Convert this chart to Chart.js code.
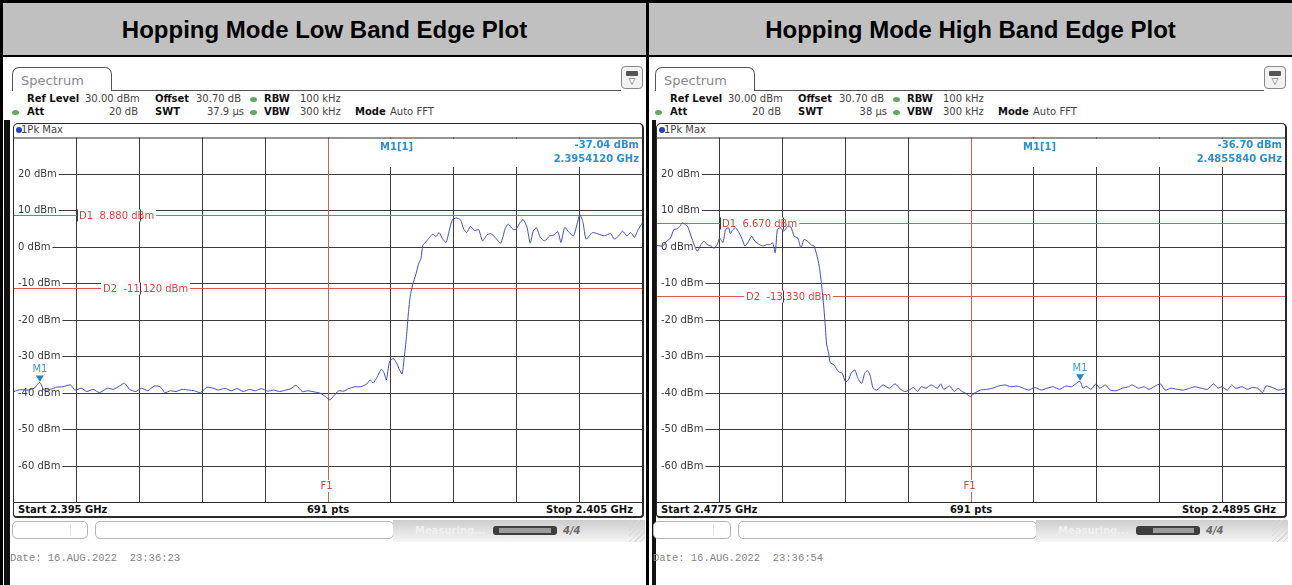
<!DOCTYPE html>
<html>
<head>
<meta charset="utf-8">
<title>Hopping Mode Band Edge Plots</title>
<script src="https://cdn.jsdelivr.net/npm/chart.js@4.4.1/dist/chart.umd.min.js"></script>
<style>
  html, body { margin: 0; padding: 0; background: #fff; }
  body { position: relative; width: 1292px; height: 585px; overflow: hidden; font-family: "DejaVu Sans", sans-serif; }
  .topband { position: absolute; left: 0; top: 0; width: 1292px; height: 57px; background: #000; }
  .head { position: absolute; top: 3px; height: 52px; background: #c0c0c0; color: #000; text-align: center;
          font: bold 24px "Liberation Sans", Arial, sans-serif; line-height: 54px; }
  .vline { position: absolute; top: 0; height: 585px; background: #000; }
  .band { position: absolute; top: 120px; height: 465px; background: #111; }
  .panel { position: absolute; top: 57px; width: 642px; height: 528px; }
  .panel > * { position: absolute; }
  .tab { left: 8px; top: 10px; width: 100px; height: 24px; box-sizing: border-box; border: 1px solid #555; border-bottom: none;
         border-radius: 7px 7px 0 0; font-size: 13px; line-height: 25px; color: #8a8a8a; padding-left: 8px; background: #fff; }
  .tabline { left: 107px; top: 33px; width: 510px; height: 0; border-top: 1px solid #555; }
  .icon { left: 617px; top: 9px; width: 22px; height: 23px; box-sizing: border-box; border: 1px solid #888; border-radius: 4px; background: #f2f2f2; }
  .icon .bat { position: absolute; left: 4px; top: 4px; width: 12px; height: 5px; background: #555; border-radius: 1px; }
  .icon .tri { position: absolute; left: 0; top: 9px; width: 20px; text-align: center; font-size: 9px; line-height: 10px; color: #555; }
  .t { position: absolute; font-size: 10px; line-height: 12px; color: #444; white-space: nowrap; }
  .t.b { font-weight: bold; color: #111; }
  .t.r { text-align: right; }
  .dot { position: absolute; width: 7px; height: 5px; border-radius: 50%; background: #62a862; }
  .win { left: 9px; top: 66px; width: 631px; height: 395px; box-sizing: border-box; border: 1px solid #2a2a2a; border-right-width: 2px;
         border-bottom-width: 2px; border-radius: 5px 5px 4px 4px; background: #fff; }
  .pk { left: 12px; top: 70px; width: 6px; height: 6px; border-radius: 50%; background: #2040d0; }
  canvas { position: absolute; }
  .sbox { border: 1px solid #b5b5b5; border-radius: 5px; background: #fff; box-sizing: border-box; }
  .status { left: 389px; top: 463px; width: 252px; height: 22px; background: linear-gradient(#cdcdcd, #f6f6f6); }
  .status .meas { position: absolute; left: 22px; top: 5px; font-size: 10px; font-weight: bold; color: #f0f0f0; }
  .prog { position: absolute; left: 100px; top: 6px; width: 64px; height: 9px; border-radius: 3px; background: #3e3e3e; }
  .prog i { position: absolute; top: 2px; height: 5px; background: #9c9c9c; }
  .status .cnt { position: absolute; left: 170px; top: 5px; font-size: 10px; font-weight: bold; font-style: italic; color: #6a6a6a; }
  .grip { position: absolute; right: 0; top: 0; width: 16px; height: 22px;
          background: repeating-linear-gradient(135deg, transparent 0 3px, #d8d8d8 3px 4px); }
  .date { left: 6px; top: 495px; font: 10.5px "Liberation Mono", "Courier New", monospace; color: #858585; white-space: pre; }
</style>
</head>
<body>
<div class="topband"></div>
<div class="head" style="left:3px;width:643px">Hopping Mode Low Band Edge Plot</div>
<div class="head" style="left:649px;width:643px">Hopping Mode High Band Edge Plot</div>
<div class="vline" style="left:0;width:3px"></div>
<div class="vline" style="left:646px;width:3px"></div>
<div class="band" style="left:4px;width:6px"></div>
<div class="band" style="left:652px;width:4px"></div>
<div class="panel" id="panelLow" style="left:4px"></div>
<div class="panel" id="panelHigh" style="left:647px"></div>

<script>
// ---- data ----
const yTicks = [20, 10, 0, -10, -20, -30, -40, -50, -60];

// low band edge: 2.395 - 2.405 GHz, values in MHz / dBm
const lowTicks = [2396, 2397, 2398, 2399, 2400, 2401, 2402, 2403, 2404];
const lowFreq = [
  2395.00, 2395.10, 2395.23, 2395.32, 2395.41, 2395.48, 2395.58, 2395.68, 2395.78, 2395.90,
  2395.97, 2396.07, 2396.16, 2396.26, 2396.36, 2396.49, 2396.58, 2396.68, 2396.76, 2396.84,
  2396.94, 2397.03, 2397.13, 2397.23, 2397.33, 2397.40, 2397.49, 2397.58, 2397.68, 2397.78,
  2397.87, 2397.97, 2398.07, 2398.17, 2398.26, 2398.36, 2398.46, 2398.55, 2398.65, 2398.75,
  2398.84, 2398.94, 2399.04, 2399.13, 2399.23, 2399.33, 2399.41, 2399.49, 2399.59, 2399.68,
  2399.78, 2399.88, 2399.96, 2400.03, 2400.09, 2400.17, 2400.25, 2400.33, 2400.43, 2400.52,
  2400.62, 2400.67, 2400.72, 2400.78, 2400.85, 2400.89, 2400.93, 2400.98, 2401.04, 2401.09,
  2401.14, 2401.18, 2401.21, 2401.25, 2401.28, 2401.31, 2401.35, 2401.40, 2401.44, 2401.48,
  2401.51, 2401.56, 2401.62, 2401.67, 2401.72, 2401.77, 2401.82, 2401.88, 2401.93, 2401.98,
  2402.04, 2402.11, 2402.16, 2402.21, 2402.27, 2402.33, 2402.40, 2402.46, 2402.53, 2402.59,
  2402.66, 2402.75, 2402.82, 2402.87, 2402.95, 2403.00, 2403.06, 2403.11, 2403.17, 2403.22,
  2403.27, 2403.32, 2403.38, 2403.45, 2403.53, 2403.59, 2403.66, 2403.71, 2403.77, 2403.84,
  2403.91, 2403.97, 2404.01, 2404.06, 2404.11, 2404.21, 2404.30, 2404.40, 2404.50, 2404.56,
  2404.63, 2404.69, 2404.76, 2404.82, 2404.88, 2404.94, 2405.00
];
const lowLevel = [
  -39.5, -39.0, -39.1, -38.6, -37.0, -39.1, -38.9, -38.3, -38.2, -37.7,
  -39.1, -38.6, -39.5, -38.9, -39.8, -38.6, -38.9, -38.0, -37.2, -38.9,
  -39.5, -38.6, -39.3, -38.0, -38.2, -39.8, -39.3, -39.5, -38.9, -39.1,
  -39.3, -39.8, -38.3, -38.6, -39.1, -38.6, -39.3, -38.7, -39.5, -38.9,
  -39.3, -38.7, -39.4, -39.1, -39.5, -39.1, -38.7, -37.8, -39.5, -39.3,
  -39.6, -40.0, -40.9, -41.8, -40.7, -39.3, -39.4, -38.7, -38.2, -38.2,
  -37.4, -36.3, -37.2, -35.6, -33.4, -34.3, -36.3, -31.3, -30.5, -31.6,
  -33.6, -34.7, -30.8, -24.4, -18.0, -13.4, -10.2, -7.4, -4.7, -3.1,
  0.4, 1.5, 2.7, 3.6, 2.9, 4.0, 2.4, 1.3, 4.5, 7.5,
  8.0, 7.5, 5.0, 4.0, 5.7, 4.5, 4.8, 1.7, 3.3, 3.7,
  2.7, 1.1, 5.0, 6.3, 4.8, 5.0, 6.8, 7.5, 5.4, 1.1,
  4.5, 5.3, 2.7, 1.7, 3.1, 3.3, 4.2, 1.3, 5.4, 4.0,
  3.1, 6.6, 8.88, 6.8, 2.2, 4.0, 3.6, 3.1, 3.7, 2.2,
  3.1, 4.4, 3.1, 4.0, 2.7, 4.8, 6.5
];
const lowDisplayLines = [8.88, -11.12];
const lowF1 = 2400.0;
const lowMarker = [2395.412, -37.04];

// high band edge: 2.4775 - 2.4895 GHz
const highTicks = [2478.7, 2479.9, 2481.1, 2482.3, 2483.5, 2484.7, 2485.9, 2487.1, 2488.3];
const highFreq = [
  2477.50, 2477.61, 2477.68, 2477.76, 2477.82, 2477.88, 2477.94, 2477.98, 2478.04, 2478.09,
  2478.15, 2478.21, 2478.27, 2478.34, 2478.40, 2478.46, 2478.53, 2478.59, 2478.65, 2478.70,
  2478.76, 2478.81, 2478.87, 2478.90, 2478.95, 2479.00, 2479.07, 2479.13, 2479.18, 2479.25,
  2479.31, 2479.37, 2479.46, 2479.53, 2479.59, 2479.66, 2479.71, 2479.76, 2479.80, 2479.86,
  2479.92, 2480.00, 2480.06, 2480.12, 2480.19, 2480.25, 2480.31, 2480.38, 2480.44, 2480.50,
  2480.55, 2480.60, 2480.64, 2480.68, 2480.72, 2480.74, 2480.78, 2480.81, 2480.88, 2480.97,
  2481.04, 2481.10, 2481.16, 2481.21, 2481.28, 2481.34, 2481.41, 2481.47, 2481.52, 2481.57,
  2481.63, 2481.70, 2481.82, 2481.94, 2482.05, 2482.17, 2482.24, 2482.32, 2482.40, 2482.48,
  2482.55, 2482.64, 2482.74, 2482.86, 2482.92, 2482.98, 2483.09, 2483.18, 2483.25, 2483.33,
  2483.40, 2483.49, 2483.56, 2483.68, 2483.80, 2483.91, 2484.03, 2484.15, 2484.26, 2484.38,
  2484.50, 2484.60, 2484.72, 2484.84, 2484.95, 2485.07, 2485.19, 2485.31, 2485.42, 2485.50,
  2485.584, 2485.64, 2485.70, 2485.79, 2485.89, 2485.96, 2486.07, 2486.16, 2486.27, 2486.39,
  2486.51, 2486.58, 2486.70, 2486.81, 2486.90, 2487.02, 2487.12, 2487.21, 2487.32, 2487.44,
  2487.56, 2487.68, 2487.78, 2487.90, 2488.02, 2488.13, 2488.22, 2488.29, 2488.40, 2488.48,
  2488.56, 2488.68, 2488.78, 2488.88, 2488.98, 2489.07, 2489.14, 2489.26, 2489.38, 2489.50
];
const highLevel = [
  0.5, 0.3, 1.6, 2.5, 4.8, 5.0, 5.7, 6.67, 6.2, 5.5,
  3.0, 0.7, -1.1, 0.7, 1.6, 0.7, 0.3, -0.3, 0.7, 2.5,
  1.2, 4.8, 5.3, 3.7, 4.8, 5.3, 3.9, 2.1, 0.3, 1.6,
  3.0, 1.6, 0.7, 0.3, 0.7, 0.7, 1.2, -1.5, 4.8, 5.3,
  4.4, 5.7, 5.5, 3.0, 2.5, -0.2, 2.1, 1.6, 0.7, 0.3,
  -2.0, -5.2, -9.7, -15.2, -22.5, -26.5, -29.0, -31.6, -32.2, -34.1,
  -34.5, -36.8, -36.3, -34.5, -33.6, -35.9, -37.3, -34.5, -33.8, -35.0,
  -38.6, -39.1, -37.7, -38.6, -37.4, -39.1, -39.5, -39.1, -38.4, -39.5,
  -38.2, -38.6, -37.7, -38.6, -37.4, -38.9, -38.0, -39.5, -38.6, -39.5,
  -40.0, -40.9, -40.0, -39.1, -38.9, -38.6, -38.0, -37.7, -38.2, -38.0,
  -38.6, -39.1, -38.4, -39.1, -38.6, -38.2, -38.9, -38.0, -38.2, -37.4,
  -36.7, -38.6, -38.0, -38.9, -37.4, -38.6, -37.7, -39.1, -39.3, -38.6,
  -38.2, -37.7, -38.6, -38.2, -38.9, -38.0, -37.4, -39.1, -38.6, -38.9,
  -39.1, -38.6, -38.2, -38.6, -38.9, -37.4, -38.6, -38.2, -39.1, -37.7,
  -38.6, -38.2, -38.9, -38.4, -38.6, -39.8, -38.0, -38.4, -39.1, -38.7
];
const highDisplayLines = [6.67, -13.33];
const highF1 = 2483.5;
const highMarker = [2485.584, -36.70];

// ---- colours ----
const GRID = '#3c3c3c';
const RED_TEXT = '#d4463a';
const RED_LINE = '#dc5a55';
const TRACE = '#3d4ec2';
const MARK = '#2b8fd2';

function panelHtml(p) {
  return `
    <div class="tab">Spectrum</div>
    <div class="tabline"></div>
    <div class="icon"><div class="bat"></div><div class="tri">&#9661;</div></div>
    <span class="t b" style="left:23px;top:36px">Ref Level</span>
    <span class="t" style="left:81px;top:36px">30.00 dBm</span>
    <span class="t b" style="left:151px;top:36px">Offset</span>
    <span class="t" style="left:192px;top:36px">30.70 dB</span>
    <i class="dot" style="left:246px;top:40px"></i>
    <span class="t b" style="left:260px;top:36px">RBW</span>
    <span class="t" style="left:296px;top:36px">100 kHz</span>
    <i class="dot" style="left:8px;top:53px"></i>
    <span class="t b" style="left:23px;top:49px">Att</span>
    <span class="t r" style="left:94px;width:40px;top:49px">20 dB</span>
    <span class="t b" style="left:151px;top:49px">SWT</span>
    <span class="t r" style="left:190px;width:50px;top:49px">${p.swt}</span>
    <i class="dot" style="left:246px;top:53px"></i>
    <span class="t b" style="left:260px;top:49px">VBW</span>
    <span class="t" style="left:296px;top:49px">300 kHz</span>
    <span class="t b" style="left:351px;top:49px">Mode</span>
    <span class="t" style="left:386px;top:49px">Auto FFT</span>
    <div class="win"></div>
    <i class="pk"></i>
    <span class="t" style="left:17px;top:67px">1Pk Max</span>
    <canvas id="${p.canvasId}" width="628" height="368" style="left:10px;top:79px"></canvas>
    <span class="t b" style="left:14px;top:447px">${p.start}</span>
    <span class="t b" style="left:274px;width:100px;text-align:center;top:447px">691 pts</span>
    <span class="t b r" style="left:429px;width:200px;top:447px">${p.stop}</span>
    <div class="sbox" style="left:${p.box1}px;top:464px;width:${84 - p.box1}px;height:18px">
      <div style="position:absolute;left:${65 - p.box1}px;top:2px;width:1px;height:12px;background:#e2e2e2"></div>
    </div>
    <div class="sbox" style="left:91px;top:464px;width:299px;height:18px"></div>
    <div class="status">
      <span class="meas">Measuring...</span>
      <div class="prog">${p.progress}</div>
      <span class="cnt">4/4</span>
      <div class="grip"></div>
    </div>
    <div class="date">Date: 16.AUG.2022  ${p.time}</div>
  `;
}

document.getElementById('panelLow').innerHTML = panelHtml({
  canvasId: 'chartLow', swt: '37.9 µs', start: 'Start 2.395 GHz', stop: 'Stop 2.405 GHz',
  time: '23:36:23', box1: 8,
  progress: '<i style="left:6px;width:52px"></i>'
});
document.getElementById('panelHigh').innerHTML = panelHtml({
  canvasId: 'chartHigh', swt: '38 µs', start: 'Start 2.4775 GHz', stop: 'Stop 2.4895 GHz',
  time: '23:36:54', box1: 6,
  progress: '<i style="left:17px;width:41px"></i>'
});

// vertical grid lines show through the display line labels
function vGridSegment(ctx, xScale, x0, x1, y0, y1) {
  ctx.strokeStyle = GRID;
  ctx.lineWidth = 1;
  xScale.ticks.forEach(t => {
    const px = Math.round(xScale.getPixelForValue(t.value)) + 0.5;
    if (px > x0 && px < x1) {
      ctx.beginPath();
      ctx.moveTo(px, y0);
      ctx.lineTo(px, y1);
      ctx.stroke();
    }
  });
}

const overlayPlugin = {
  id: 'overlay',
  beforeDatasetsDraw(chart, args, o) {
    const { ctx, chartArea: a, scales: { x, y } } = chart;
    ctx.save();

    // marker readout hides the upper right part of the grid
    ctx.fillStyle = '#fff';
    ctx.fillRect(a.left + a.width / 2 + 3, a.top + 1, a.width / 2 - 3, 28.5);
    ctx.font = 'bold 10px "DejaVu Sans"';
    ctx.fillStyle = MARK;
    ctx.textBaseline = 'middle';
    ctx.textAlign = 'left';
    ctx.fillText('M1[1]', a.left + 366, a.top + 10);
    ctx.textAlign = 'right';
    ctx.fillText(o.marker[1].toFixed(2) + ' dBm', a.right - 3, a.top + 8);
    ctx.fillText((o.marker[0] / 1000).toFixed(7) + ' GHz', a.right - 3, a.top + 22);

    // F1 frequency line
    const fx = Math.round(x.getPixelForValue(o.f1)) + 0.5;
    ctx.strokeStyle = RED_LINE;
    ctx.lineWidth = 1;
    ctx.beginPath();
    ctx.moveTo(fx, a.top);
    ctx.lineTo(fx, a.bottom);
    ctx.stroke();
    ctx.font = '10px "DejaVu Sans"';
    const fy = a.bottom - 17;
    ctx.fillStyle = '#fff';
    ctx.fillRect(fx - 8, fy - 6, 13, 12);
    ctx.fillStyle = RED_TEXT;
    ctx.textAlign = 'center';
    ctx.fillText('F1', fx - 2, fy);

    // display lines D1 / D2
    o.lines.forEach((v, i) => {
      const py = Math.round(y.getPixelForValue(v)) + 0.5;
      ctx.strokeStyle = RED_LINE;
      ctx.beginPath();
      ctx.moveTo(a.left, py);
      ctx.lineTo(a.right, py);
      ctx.stroke();
      const text = `D${i + 1}  ${v.toFixed(3)} dBm`;
      const lx = a.left + o.labelX[i];
      const w = ctx.measureText(text).width;
      ctx.fillStyle = '#fff';
      ctx.fillRect(lx - 2, py - 6, w + 4, 12);
      vGridSegment(ctx, x, lx - 2, lx + w + 2, py - 6, py + 6);
      ctx.fillStyle = RED_TEXT;
      ctx.textAlign = 'left';
      ctx.fillText(text, lx, py + 0.5);
    });
    ctx.restore();
  },
  afterDatasetsDraw(chart, args, o) {
    const { ctx, chartArea: a, scales: { x, y } } = chart;
    ctx.save();
    ctx.strokeStyle = '#2a2a2a';
    ctx.lineWidth = 1;
    ctx.beginPath();
    ctx.moveTo(a.left, a.top + 0.5);
    ctx.lineTo(a.right, a.top + 0.5);
    ctx.moveTo(a.left, a.bottom - 0.5);
    ctx.lineTo(a.right, a.bottom - 0.5);
    ctx.stroke();

    // marker M1
    const mx = x.getPixelForValue(o.marker[0]);
    const my = y.getPixelForValue(o.marker[1]);
    ctx.fillStyle = '#1f86cf';
    ctx.beginPath();
    ctx.moveTo(mx - 4, my - 7);
    ctx.lineTo(mx + 4, my - 7);
    ctx.lineTo(mx, my - 0.5);
    ctx.closePath();
    ctx.fill();
    ctx.font = '10px "DejaVu Sans"';
    ctx.fillStyle = '#3c9bd8';
    ctx.textAlign = 'center';
    ctx.textBaseline = 'bottom';
    ctx.fillText('M1', mx, my - 8);
    ctx.restore();
  }
};

// the scales take no room: labels sit inside the grid like on the analyzer
function noRoom(s) {
  if (s.isHorizontal()) s.height = 0; else s.width = 0;
  s.paddingTop = 0;
  s.paddingBottom = 0;
  s.paddingLeft = 0;
  s.paddingRight = 0;
}

function makeChart(id, freq, level, ticks, opts) {
  return new Chart(document.getElementById(id), {
    type: 'line',
    data: {
      datasets: [{
        data: freq.map((f, i) => ({ x: f, y: level[i] })),
        borderColor: TRACE,
        borderWidth: 1,
        pointRadius: 0,
        tension: 0.2,
        fill: false
      }]
    },
    plugins: [overlayPlugin],
    options: {
      responsive: false,
      animation: false,
      events: [],
      layout: { padding: { left: 0, right: 0, top: 1.5, bottom: 1 } },
      plugins: { legend: { display: false }, tooltip: { enabled: false }, overlay: opts },
      scales: {
        x: {
          type: 'linear',
          min: freq[0],
          max: freq[freq.length - 1],
          afterBuildTicks: s => { s.ticks = ticks.map(v => ({ value: v })); },
          afterFit: noRoom,
          grid: { color: GRID, drawTicks: false },
          border: { display: false },
          ticks: { display: false }
        },
        y: {
          min: -70,
          max: 30,
          afterBuildTicks: s => { s.ticks = yTicks.map(v => ({ value: v })); },
          afterFit: noRoom,
          grid: { color: GRID, drawTicks: false },
          border: { display: false },
          ticks: {
            mirror: true,
            padding: 4,
            color: '#3a3a3a',
            font: { family: 'DejaVu Sans', size: 10 },
            callback: v => v + ' dBm',
            showLabelBackdrop: true,
            backdropColor: '#fff',
            backdropPadding: { left: 4, right: 2, top: 0, bottom: 0 }
          }
        }
      }
    }
  });
}

makeChart('chartLow', lowFreq, lowLevel, lowTicks,
  { lines: lowDisplayLines, labelX: [65, 89], f1: lowF1, marker: lowMarker });
makeChart('chartHigh', highFreq, highLevel, highTicks,
  { lines: highDisplayLines, labelX: [65, 89], f1: highF1, marker: highMarker });
</script>
</body>
</html>
